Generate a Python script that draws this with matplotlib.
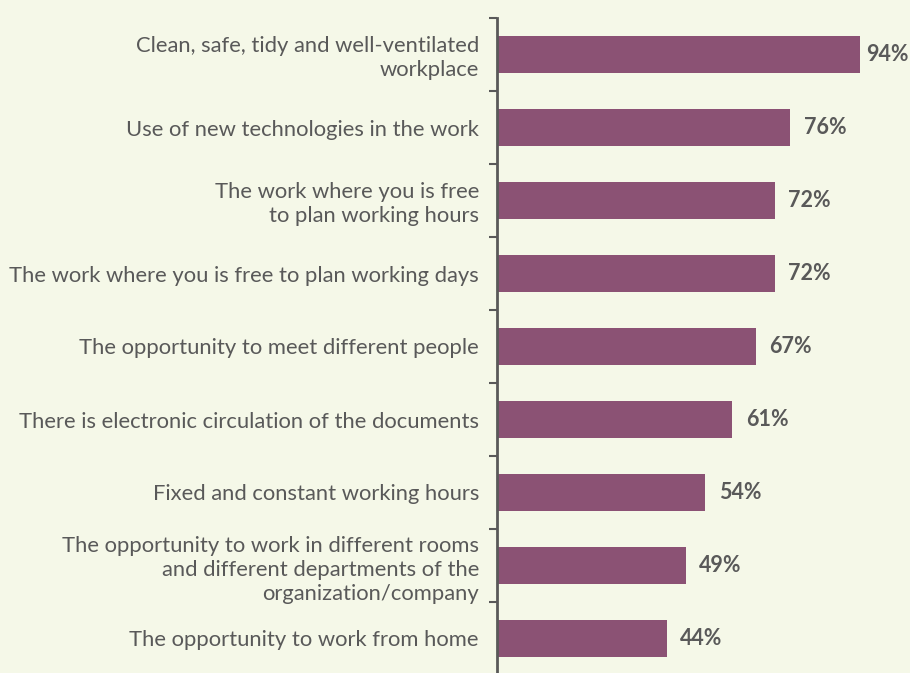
import matplotlib.pyplot as plt
import numpy as np

categories = [
    'Clean, safe, tidy and well-ventilated\nworkplace',
    'Use of new technologies in the work',
    'The work where you is free\nto plan working hours',
    'The work where you is free to plan working days',
    'The opportunity to meet different people',
    'There is electronic circulation of the documents',
    'Fixed and constant working hours',
    'The opportunity to work in different rooms\nand different departments of the\norganization/company',
    'The opportunity to work from home',
]
values = [94, 76, 72, 72, 67, 61, 54, 49, 44]

bg = '#f5f8e8'
bar_color = '#8b5274'
text_color = '#595959'

plt.rcParams['font.family'] = ['Lato', 'DejaVu Sans']

fig = plt.figure(figsize=(9.1, 6.73), dpi=100, facecolor=bg)
ax = fig.add_axes([497 / 910, 1 - 675 / 673, 1 - 497 / 910, 657 / 673])
ax.set_facecolor(bg)

y = np.arange(len(categories))
ax.barh(y, values, height=0.5, color=bar_color)
ax.set_ylim(len(categories) - 0.5, -0.5)
ax.set_xlim(0, 107)

for yi, v in zip(y, values):
    # labels near the right edge sit closer to the bar
    off = 4.5 if v > 90 else 9.5
    ax.annotate(f'{v}%', xy=(v, yi), xytext=(off, 0), textcoords='offset points',
                va='center', ha='left', fontsize=15.5, fontweight='bold',
                color=text_color)

ax.set_yticks(y)
ax.set_yticklabels(categories, fontsize=15.8, color=text_color, linespacing=1.25)
ax.tick_params(axis='y', which='major', length=0, pad=13)
ax.set_yticks(np.arange(-0.5, len(categories), 1), minor=True)
ax.tick_params(axis='y', which='minor', length=6, width=1.5, color=text_color)

ax.set_xticks([])
for s in ['top', 'right', 'bottom']:
    ax.spines[s].set_visible(False)
ax.spines['left'].set_color(text_color)
ax.spines['left'].set_linewidth(2)

fig.savefig('out.png', dpi=100, facecolor=bg)
